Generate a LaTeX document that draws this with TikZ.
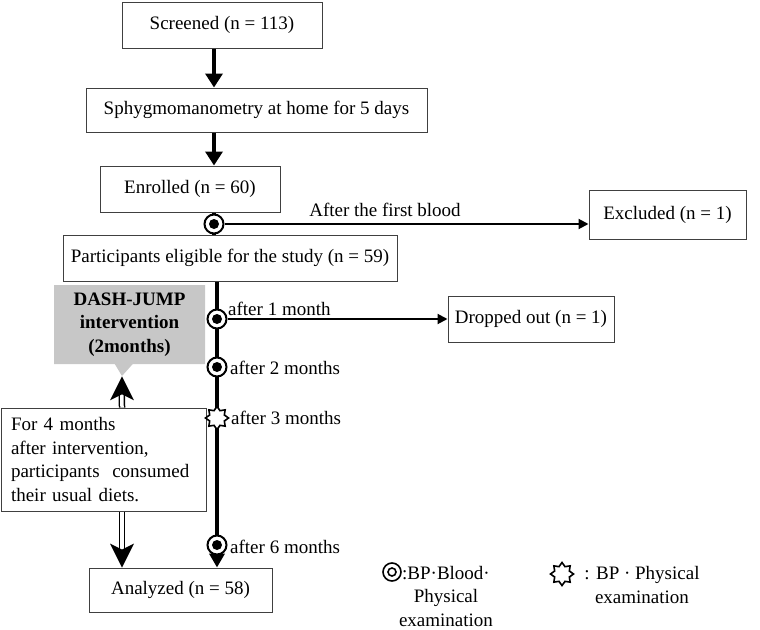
\documentclass[tikz,border=0pt]{standalone}
\usepackage{fontspec}
\setmainfont{Liberation Serif}
\usetikzlibrary{arrows.meta,shapes.geometric,shapes.callouts}
\begin{document}
\begin{tikzpicture}[x=1pt,y=-1pt,
  txt/.style={font=\fontsize{19}{23.5}\selectfont},
  box/.style={txt, draw=black!75, line width=1pt, fill=white, inner sep=0pt},
  thickarrow/.style={line width=4pt, -{Triangle[length=14pt,width=17pt]}},
  mainline/.style={line width=3.5pt},
  thinarrow/.style={line width=2pt, -{Triangle[length=10pt,width=10pt]}},
  dblshaft/.style={double, double distance=3.5pt, line width=1.5pt, shorten >=15pt},
  mk/.style={circle, draw, line width=2pt, fill=white, minimum size=19pt, inner sep=0pt,
    path picture={\fill[black] (path picture bounding box.center) circle (5pt);}},
  mkstar/.style={star, star points=8, star point ratio=1.45, draw, line width=1.6pt, fill=white,
    minimum size=23pt, inner sep=0pt},
  lab/.style={txt, anchor=west, inner sep=0pt}
]
\useasboundingbox (0,0) rectangle (760,629);

% boxes
\node[box, minimum width=200pt, minimum height=46pt] (scr) at (222,25) {Screened (n = 113)};
\node[box, minimum width=341pt, minimum height=44pt] (sph) at (256.5,110) {Sphygmomanometry at home for 5 days};
\node[box, minimum width=180pt, minimum height=46pt] (enr) at (190,189) {Enrolled (n = 60)};
\node[box, minimum width=334pt, minimum height=46pt] (par) at (230,258) {Participants eligible for the study (n = 59)};
\node[box, minimum width=157pt, minimum height=49pt] (exc) at (667.5,214.5) {Excluded (n = 1)};
\node[box, minimum width=166pt, minimum height=46pt] (drp) at (531,319) {Dropped out (n = 1)};
\node[box, minimum width=183pt, minimum height=44pt] (ana) at (180.5,590) {Analyzed (n = 58)};
\node[txt, rectangle callout, fill=black!22, minimum width=151pt, minimum height=79pt, inner sep=0pt,
  callout absolute pointer={(122,376)}, callout pointer width=18pt, align=center,
  font=\fontsize{19}{23.5}\selectfont\bfseries] (dash) at (129.5,324.5) {DASH-JUMP\\intervention\\(2months)};
\node[box, text width=185pt, inner xsep=10pt, minimum height=103pt, align=left] (four) at (103.5,459.5)
  {For 4 months\\after intervention,\\participants\ \ consumed\\their usual diets.};

\coordinate (cx) at (214,0);
\coordinate (mx) at (217,0);
\coordinate (dx) at (122,0);

% arrows and lines
\draw[thickarrow] (scr.south -| cx) -- (sph.north -| cx);
\draw[thickarrow] (sph.south -| cx) -- (enr.north -| cx);
\draw[mainline] (enr.south -| cx) -- (par.north -| cx);
\draw[mainline, -{Triangle[length=14pt,width=15pt]}] (par.south -| mx) -- (ana.north -| mx);
% double arrows
\draw[dblshaft] (four.north -| dx) -- (dash.pointer);
\fill (dash.pointer) -- ++(-12,24) -- ++(12,-6) -- ++(12,6) -- cycle;
\draw[dblshaft] (four.south -| dx) -- (ana.north -| dx);
\fill (ana.north -| dx) -- ++(-12,-24) -- ++(12,6) -- ++(12,-6) -- cycle;

% markers
\node[mk] (m0) at (214,224) {};
\node[mk] (m1) at (217,319) {};
\node[mk] (m2) at (217,367) {};
\node[mkstar] (m3) at (217,418) {};
\node[mk] (m6) at (217,545) {};

\draw[thinarrow] (m0) -- (m0 -| exc.west);
\draw[thinarrow] (m1) -- (m1 -| drp.west);

% labels
\node[txt] (lfirst) at (385,210) {After the first blood};
\node[lab] (l1) at (228,309) {after 1 month};
\node[lab] (l2) at (230,368) {after 2 months};
\node[lab] (l3) at (231,418) {after 3 months};
\node[lab] (l6) at (230,547) {after 6 months};

% legend
\node[circle, draw, line width=1.6pt, minimum size=18pt, inner sep=0pt,
  path picture={\draw[line width=1.6pt] (path picture bounding box.center) circle (4pt);}] (lg1) at (392,572) {};
\node[txt, align=center, inner sep=0pt] (lt1) at (446,596) {:BP·Blood·\\Physical\\examination};
\node[mkstar] (lg2) at (562,574) {};
\node[txt, align=center, inner sep=0pt] (lt2) at (642,585) {: BP · Physical\\examination};
\end{tikzpicture}
\end{document}
